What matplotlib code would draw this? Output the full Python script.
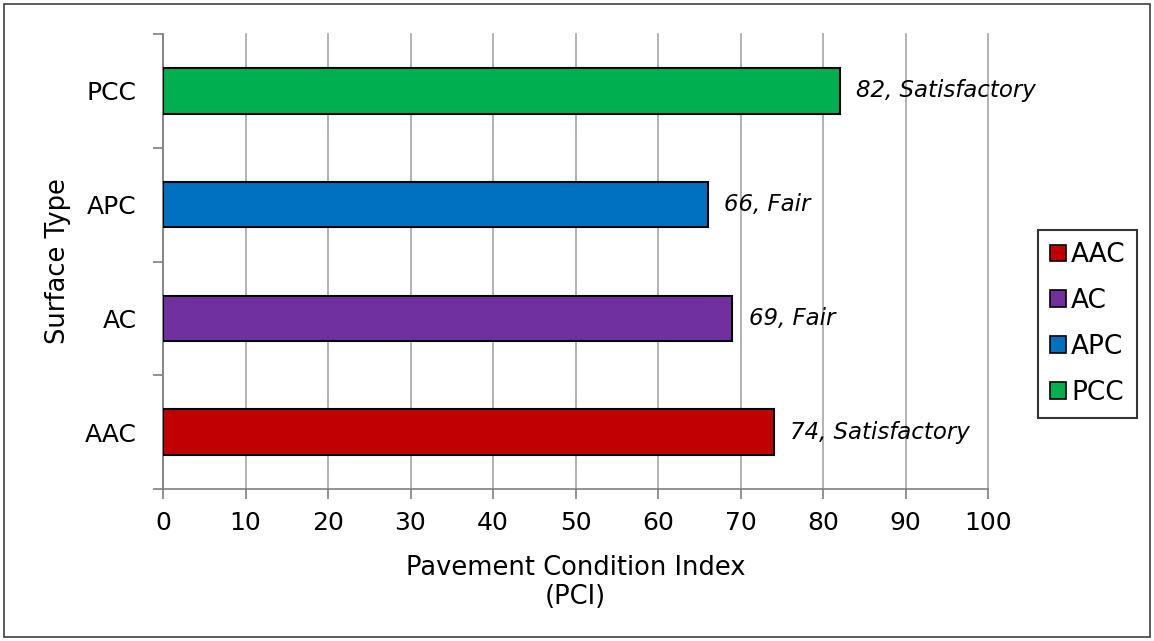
import matplotlib.pyplot as plt
from matplotlib.patches import Rectangle

# PCI by surface type
surfaces = ["AAC", "AC", "APC", "PCC"]
pci = [74, 69, 66, 82]
ratings = ["Satisfactory", "Fair", "Fair", "Satisfactory"]
colors = ["#c00000", "#7030a0", "#0070c0", "#00b050"]

plt.rcParams['font.family'] = ['DejaVu Sans']

fig = plt.figure(figsize=(11.54, 6.41), dpi=100)
ax = fig.add_axes([163 / 1154, 1 - 489 / 641, 825 / 1154, 455 / 641])

ypos = list(range(len(surfaces)))
ax.barh(ypos, pci, height=0.4, color=colors, edgecolor="black",
        linewidth=1.5, zorder=3)

for y, v, r in zip(ypos, pci, ratings):
    ax.text(v + 2, y, f"{v}, {r}", va="center", ha="left",
            fontsize=16.5, style="italic", zorder=4)

ax.set_xlim(0, 100)
ax.set_ylim(-0.5, len(surfaces) - 0.5)
ax.set_xticks(range(0, 101, 10))
ax.set_yticks(ypos)
ax.set_yticklabels(surfaces)
ax.set_yticks([y - 0.5 for y in ypos] + [len(surfaces) - 0.5], minor=True)
ax.tick_params(axis="y", which="major", length=0, pad=19, labelsize=18)
ax.tick_params(axis="y", which="minor", length=7, width=1.2, color="#808080")
ax.tick_params(axis="x", length=7, width=1.2, color="#808080", labelsize=18, pad=9)
ax.grid(axis="x", color="#a6a6a6", linewidth=1.2, zorder=0, clip_on=False)

for s in ["top", "right"]:
    ax.spines[s].set_visible(False)
for s in ["left", "bottom"]:
    ax.spines[s].set_color("#808080")
    ax.spines[s].set_linewidth(1.2)

ax.set_xlabel("Pavement Condition Index\n(PCI)", fontsize=18.5, labelpad=14,
              linespacing=1.15)
ax.set_ylabel("Surface Type", fontsize=18.5, labelpad=10)

handles = [Rectangle((0, 0), 1, 1, facecolor=c, edgecolor="black", linewidth=1.2)
           for c in colors]
leg = fig.legend(handles, surfaces, loc="center left",
                 bbox_to_anchor=(1038 / 1154, 1 - 324 / 641), fontsize=19,
                 frameon=True, fancybox=False, edgecolor="black",
                 handlelength=0.6, handleheight=0.6, handletextpad=0.2,
                 labelspacing=0.75, borderpad=0.45, borderaxespad=0)
leg.get_frame().set_linewidth(1.5)

# outer frame
fig.patches.append(Rectangle((4 / 1154, 4 / 641), 1146 / 1154, 633 / 641,
                             transform=fig.transFigure, fill=False,
                             edgecolor="#404040", linewidth=1.2))

fig.savefig("out.png", dpi=100)
